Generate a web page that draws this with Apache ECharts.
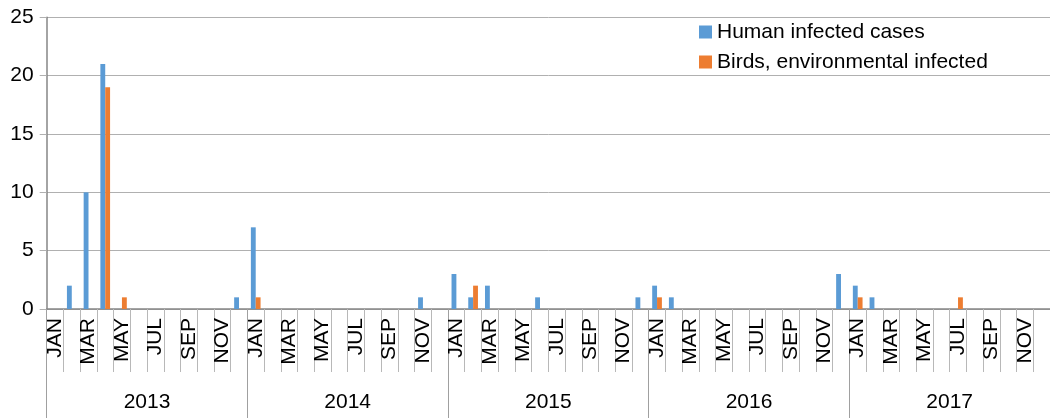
<!DOCTYPE html>
<html>
<head>
<meta charset="utf-8">
<script src="https://cdn.jsdelivr.net/npm/echarts@6/dist/echarts.min.js"></script>
<style>html,body{margin:0;padding:0;background:#fff}#c{width:1050px;height:420px}</style>
</head>
<body>
<div id="c"></div>
<script>
const years = ['2013', '2014', '2015', '2016', '2017'];
const months = ['JAN','FEB','MAR','APR','MAY','JUN','JUL','AUG','SEP','OCT','NOV','DEC'];
const yTicks = [0, 5, 10, 15, 20, 25];
// monthly values, Jan 2013 .. Dec 2017
const human2013 = [0, 2, 10, 21, 0, 0, 0, 0, 0, 0, 0, 1];
const human2014 = [7, 0, 0, 0, 0, 0, 0, 0, 0, 0, 1, 0];
const human2015 = [3, 1, 2, 0, 0, 1, 0, 0, 0, 0, 0, 1];
const human2016 = [2, 1, 0, 0, 0, 0, 0, 0, 0, 0, 0, 3];
const human2017 = [2, 1, 0, 0, 0, 0, 0, 0, 0, 0, 0, 0];
const birds2013 = [0, 0, 0, 19, 1, 0, 0, 0, 0, 0, 0, 0];
const birds2014 = [1, 0, 0, 0, 0, 0, 0, 0, 0, 0, 0, 0];
const birds2015 = [0, 2, 0, 0, 0, 0, 0, 0, 0, 0, 0, 0];
const birds2016 = [1, 0, 0, 0, 0, 0, 0, 0, 0, 0, 0, 0];
const birds2017 = [1, 0, 0, 0, 0, 0, 1, 0, 0, 0, 0, 0];

const categories = [];
years.forEach(() => months.forEach(m => categories.push(m)));
const human = [].concat(human2013, human2014, human2015, human2016, human2017);
const birds = [].concat(birds2013, birds2014, birds2015, birds2016, birds2017);

const FONT = "'Liberation Sans', Arial, sans-serif";
const chart = echarts.init(document.getElementById('c'), null, {renderer: 'canvas'});
chart.setOption({
  animation: false,
  textStyle: {fontFamily: FONT},
  grid: {left: 46.7, top: 17.3, width: 1012.7, height: 291.7, containLabel: false},
  legend: {
    orient: 'vertical', left: 699, top: 21.5, padding: 0, itemWidth: 13, itemHeight: 13, itemGap: 9,
    icon: 'rect',
    textStyle: {fontFamily: FONT, fontSize: 21, color: '#000', lineHeight: 21},
    data: ['Human infected cases', 'Birds, environmental infected']
  },
  xAxis: [{
    type: 'category', data: categories, position: 'bottom',
    axisLine: {show: true, lineStyle: {color: '#868686', width: 1.5}},
    axisTick: {show: true, interval: 0, length: 63, lineStyle: {color: '#b8b8b8', width: 1}},
    axisLabel: {interval: 1, rotate: 90, margin: 9, fontSize: 21, color: '#000', fontFamily: FONT},
    splitLine: {show: false}
  }, {
    type: 'category', data: years, position: 'bottom', offset: 0,
    axisLine: {show: false},
    axisTick: {show: true, interval: 0, length: 109, lineStyle: {color: '#a0a0a0', width: 1}},
    axisLabel: {interval: 0, margin: 83, fontSize: 21, color: '#000', fontFamily: FONT},
    splitLine: {show: false}
  }],
  yAxis: {
    type: 'value', min: yTicks[0], max: yTicks[yTicks.length - 1], interval: 5,
    axisLine: {show: true, lineStyle: {color: '#868686', width: 1.5}},
    axisTick: {show: true, length: 7, lineStyle: {color: '#b0b0b0'}},
    axisLabel: {margin: 13, fontSize: 21, color: '#000', fontFamily: FONT},
    splitLine: {show: true, lineStyle: {color: '#b0b0b0', width: 1}}
  },
  series: [{
    name: 'Human infected cases', type: 'bar', xAxisIndex: 0, data: human,
    itemStyle: {color: '#5b9bd5'}, barGap: '0%', barCategoryGap: '42%'
  }, {
    name: 'Birds, environmental infected', type: 'bar', xAxisIndex: 0, data: birds,
    itemStyle: {color: '#ed7d31'}, barGap: '0%', barCategoryGap: '42%'
  }]
});
</script>
</body>
</html>
